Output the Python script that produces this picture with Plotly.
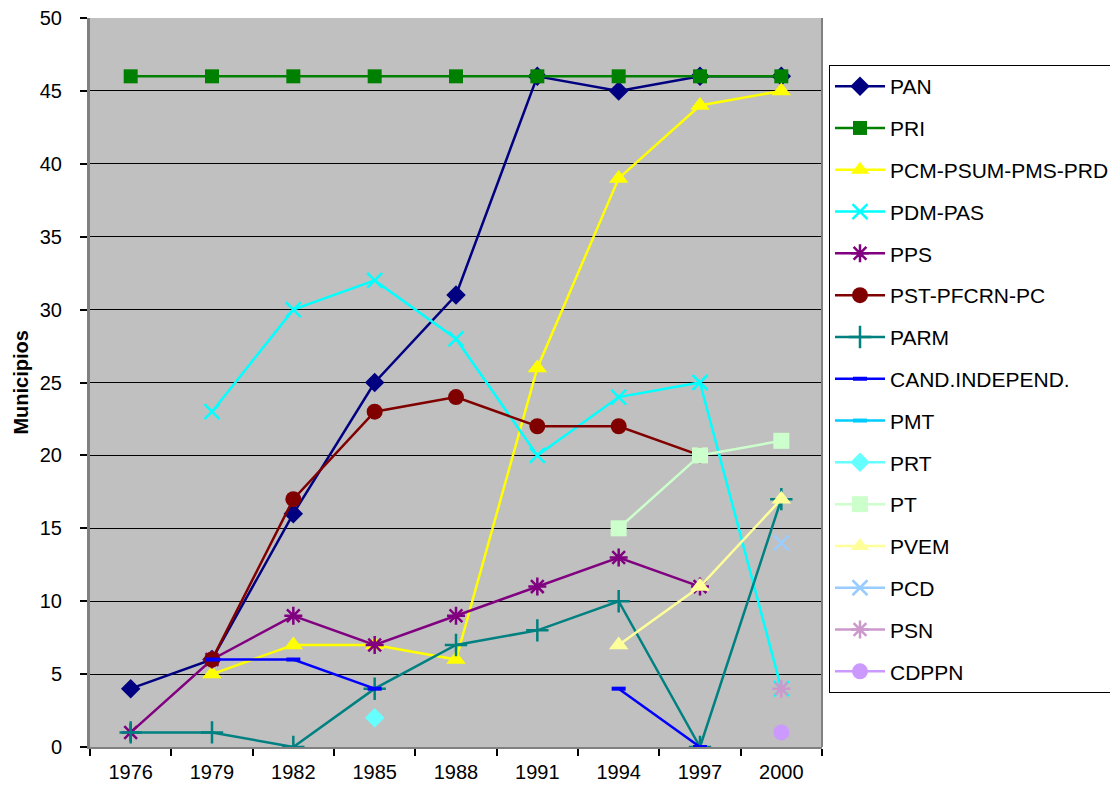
import plotly.graph_objects as go

years = ["1976", "1979", "1982", "1985", "1988", "1991", "1994", "1997", "2000"]
N = None
PAN = [4, 6, 16, 25, 31, 46, 45, 46, 46]
PRI = [46, 46, 46, 46, 46, 46, 46, 46, 46]
PRD = [N, 5, 7, 7, 6, 26, 39, 44, 45]
PDM = [N, 23, 30, 32, 28, 20, 24, 25, 4]
PPS = [1, 6, 9, 7, 9, 11, 13, 11, N]
PST = [N, 6, 17, 23, 24, 22, 22, 20, N]
PARM = [1, 1, 0, 4, 7, 8, 10, 0, 17]
CAND = [N, 6, 6, 4, N, N, 4, 0, N]
PMT = [N, N, N, N, N, N, N, N, N]
PRT = [N, N, N, 2, N, N, N, N, N]
PT = [N, N, N, N, N, N, 15, 20, 21]
PVEM = [N, N, N, N, N, N, 7, 11, 17]
PCD = [N, N, N, N, N, N, N, N, 14]
PSN = [N, N, N, N, N, N, N, N, 4]
CDPPN = [N, N, N, N, N, N, N, N, 1]

series = [
    ("PAN", PAN, "#000080", "diamond", 15),
    ("PRI", PRI, "#008000", "square", 14),
    ("PCM-PSUM-PMS-PRD", PRD, "#FFFF00", "triangle-up", 17),
    ("PDM-PAS", PDM, "#00FFFF", "x-thin-open", 15),
    ("PPS", PPS, "#800080", "asterisk-open", 15),
    ("PST-PFCRN-PC", PST, "#800000", "circle", 16),
    ("PARM", PARM, "#008080", "cross-thin-open", 16),
    ("CAND.INDEPEND.", CAND, "#0000FF", "line-ew-open", 10),
    ("PMT", PMT, "#00CCFF", "line-ew-open", 10),
    ("PRT", PRT, "#66FFFF", "diamond", 15),
    ("PT", PT, "#CCFFCC", "square", 16),
    ("PVEM", PVEM, "#FFFF99", "triangle-up", 17),
    ("PCD", PCD, "#99CCFF", "x-thin-open", 15),
    ("PSN", PSN, "#CC99CC", "asterisk-open", 15),
    ("CDPPN", CDPPN, "#CC99FF", "circle", 16),
]

fig = go.Figure()
for i, (name, vals, color, sym, size) in enumerate(series):
    mline = 2.5 if "open" in sym else 0
    if sym.startswith("line-ew"):
        mline = 4
    fig.add_trace(go.Scatter(
        x=years, y=vals, name=name, mode="lines+markers",
        line=dict(color=color, width=2.5),
        marker=dict(symbol=sym, size=size, color=color,
                    line=dict(color=color, width=mline)),
        legendgroup=f"g{i}",
    ))

fig.update_layout(
    width=1110, height=781,
    paper_bgcolor="white", plot_bgcolor="#C0C0C0",
    margin=dict(l=82, r=296, t=10, b=42, autoexpand=False),
    font=dict(family="Arial, Liberation Sans, sans-serif", size=20, color="black"),
    xaxis=dict(type="category", range=[-0.5, 8.5], showgrid=False,
               ticks="outside", ticklen=7, tickcolor="black", tickwidth=1.5,
               tickson="boundaries", showline=True, linecolor="#808080",
               linewidth=2, mirror=False, tickfont=dict(size=20),
               ticklabelstandoff=6, automargin=False,
               ticklabeloverflow="allow"),
    yaxis=dict(range=[0, 50], dtick=5, showgrid=True, gridcolor="black",
               gridwidth=1, ticks="outside", ticklen=7, tickcolor="black",
               tickwidth=1.5,
               showline=True, linecolor="#808080", linewidth=3, zeroline=False,
               tickfont=dict(size=20), ticklabelstandoff=14, automargin=False,
               ticklabeloverflow="allow"),
    legend=dict(xref="container", yref="container",
                x=821 / 1110, xanchor="left", y=1 - 57 / 781, yanchor="top",
                bordercolor="black", borderwidth=1, bgcolor="white",
                font=dict(size=21), itemwidth=50, tracegroupgap=11.5,
                traceorder="grouped", maxheight=720),
    showlegend=True,
)
fig.add_annotation(text="<b>Municipios</b>", xref="paper", yref="paper",
                   x=-0.0955, y=0.5, xanchor="center", yanchor="middle",
                   textangle=-90, showarrow=False, font=dict(size=20))
fig.add_shape(type="line", xref="paper", yref="paper", x0=1, x1=1, y0=0, y1=1,
              line=dict(color="#808080", width=2))

fig.write_html("out.html")
